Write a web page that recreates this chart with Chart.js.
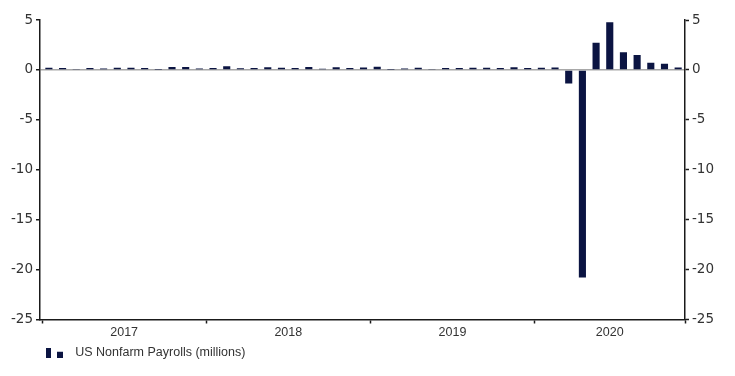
<!DOCTYPE html>
<html>
<head>
<meta charset="utf-8">
<script src="https://cdn.jsdelivr.net/npm/chart.js@4.4.1/dist/chart.umd.min.js"></script>
<style>
  html, body { margin: 0; padding: 0; background: #fff; }
  canvas { display: block; }
</style>
</head>
<body>
<canvas id="nfp" width="735" height="376"></canvas>
<script>
// monthly change in US nonfarm payrolls, millions (Jan 2017 - Nov 2020)
const months = [
  'Jan 2017', 'Feb 2017', 'Mar 2017', 'Apr 2017', 'May 2017', 'Jun 2017', 'Jul 2017', 'Aug 2017', 'Sep 2017', 'Oct 2017', 'Nov 2017', 'Dec 2017',
  'Jan 2018', 'Feb 2018', 'Mar 2018', 'Apr 2018', 'May 2018', 'Jun 2018', 'Jul 2018', 'Aug 2018', 'Sep 2018', 'Oct 2018', 'Nov 2018', 'Dec 2018',
  'Jan 2019', 'Feb 2019', 'Mar 2019', 'Apr 2019', 'May 2019', 'Jun 2019', 'Jul 2019', 'Aug 2019', 'Sep 2019', 'Oct 2019', 'Nov 2019', 'Dec 2019',
  'Jan 2020', 'Feb 2020', 'Mar 2020', 'Apr 2020', 'May 2020', 'Jun 2020', 'Jul 2020', 'Aug 2020', 'Sep 2020', 'Oct 2020', 'Nov 2020'
];
const payrolls = [
  0.21, 0.20, 0.10, 0.19, 0.13, 0.22, 0.21, 0.20, 0.02, 0.29, 0.28, 0.15,
  0.18, 0.36, 0.16, 0.18, 0.27, 0.21, 0.18, 0.28, 0.11, 0.26, 0.20, 0.23,
  0.31, 0.02, 0.15, 0.21, 0.09, 0.18, 0.19, 0.21, 0.21, 0.19, 0.26, 0.18,
  0.21, 0.25, -1.37, -20.79, 2.73, 4.78, 1.76, 1.49, 0.71, 0.61, 0.25
];
const years = ['2017', '2018', '2019', '2020'];
const yTicks = [5, 0, -5, -10, -15, -20, -25];
const seriesName = 'US Nonfarm Payrolls (millions)';

const navy = '#0b1442';
const axisCol = '#1a1a1a';
const textCol = '#333';
const clear = 'rgba(0,0,0,0)';

// year edges in month-index units, labels sit half way between edges
const edges = years.map(y => months.findIndex(m => m.endsWith(y)) - 0.5).concat(months.length - 0.5);
const mids = years.map((y, i) => (edges[i] + edges[i + 1]) / 2);
const xTicks = edges.concat(mids).sort((a, b) => a - b);

// legend marker: tall bar next to a small square (right part left blank as gap before the text)
const icon = document.createElement('canvas');
icon.width = 23; icon.height = 10;
const ic = icon.getContext('2d');
ic.fillStyle = navy;
ic.fillRect(0, 0, 5, 10);
ic.fillRect(11, 4, 6, 6);

const tickFont = { family: "'DejaVu Sans', Verdana, sans-serif", size: 13.5 };
const labelFont = { family: "'Liberation Sans', Arial, sans-serif", size: 12.5 };

const tickVal = c => (c && c.tick ? c.tick.value : null);

new Chart(document.getElementById('nfp'), {
  type: 'bar',
  data: {
    datasets: [{
      label: seriesName,
      data: payrolls.map((v, i) => ({ x: i, y: v })),
      backgroundColor: navy,
      borderWidth: 0,
      barPercentage: 0.52,
      categoryPercentage: 1,
      yAxisID: 'y'
    }]
  },
  options: {
    responsive: false,
    animation: false,
    layout: { padding: { top: 20, right: 0, bottom: 7, left: 0 } },
    plugins: {
      tooltip: { enabled: false },
      legend: {
        position: 'bottom',
        align: 'start',
        fullSize: false,
        labels: {
          usePointStyle: true,
          pointStyle: icon,
          pointStyleWidth: 23,
          padding: 6,
          color: textCol,
          font: labelFont
        }
      }
    },
    scales: {
      x: {
        type: 'linear',
        offset: false,
        min: -0.65,
        max: months.length - 0.5,
        afterBuildTicks: s => { s.ticks = xTicks.map(v => ({ value: v })); },
        afterFit: s => { s.height = 21; },
        ticks: {
          autoSkip: false,
          maxRotation: 0,
          padding: 2,
          color: textCol,
          font: labelFont,
          callback: v => { const i = mids.indexOf(v); return i < 0 ? '' : years[i]; }
        },
        grid: {
          offset: false,
          drawOnChartArea: false,
          tickLength: 4,
          tickWidth: 1.5,
          tickColor: c => edges.includes(tickVal(c)) ? axisCol : clear
        },
        border: { color: axisCol, width: 1.5 }
      },
      y: {
        position: 'left',
        min: -25, max: 5,
        afterBuildTicks: s => { s.ticks = yTicks.map(v => ({ value: v })); },
        afterFit: s => { s.width = 40; },
        ticks: { color: textCol, font: tickFont, padding: 3 },
        grid: {
          tickLength: 4,
          tickWidth: 1.5,
          tickColor: axisCol,
          lineWidth: 1.5,
          color: c => tickVal(c) === 0 ? '#a8a8a8' : clear
        },
        border: { color: axisCol, width: 1.5 }
      },
      y2: {
        position: 'right',
        min: -25, max: 5,
        afterBuildTicks: s => { s.ticks = yTicks.map(v => ({ value: v })); },
        afterFit: s => { s.width = 50; },
        ticks: { color: textCol, font: tickFont, padding: 3 },
        grid: { drawOnChartArea: false, tickLength: 4, tickWidth: 1.5, tickColor: axisCol },
        border: { color: axisCol, width: 1.5 }
      }
    }
  }
});
</script>
</body>
</html>
